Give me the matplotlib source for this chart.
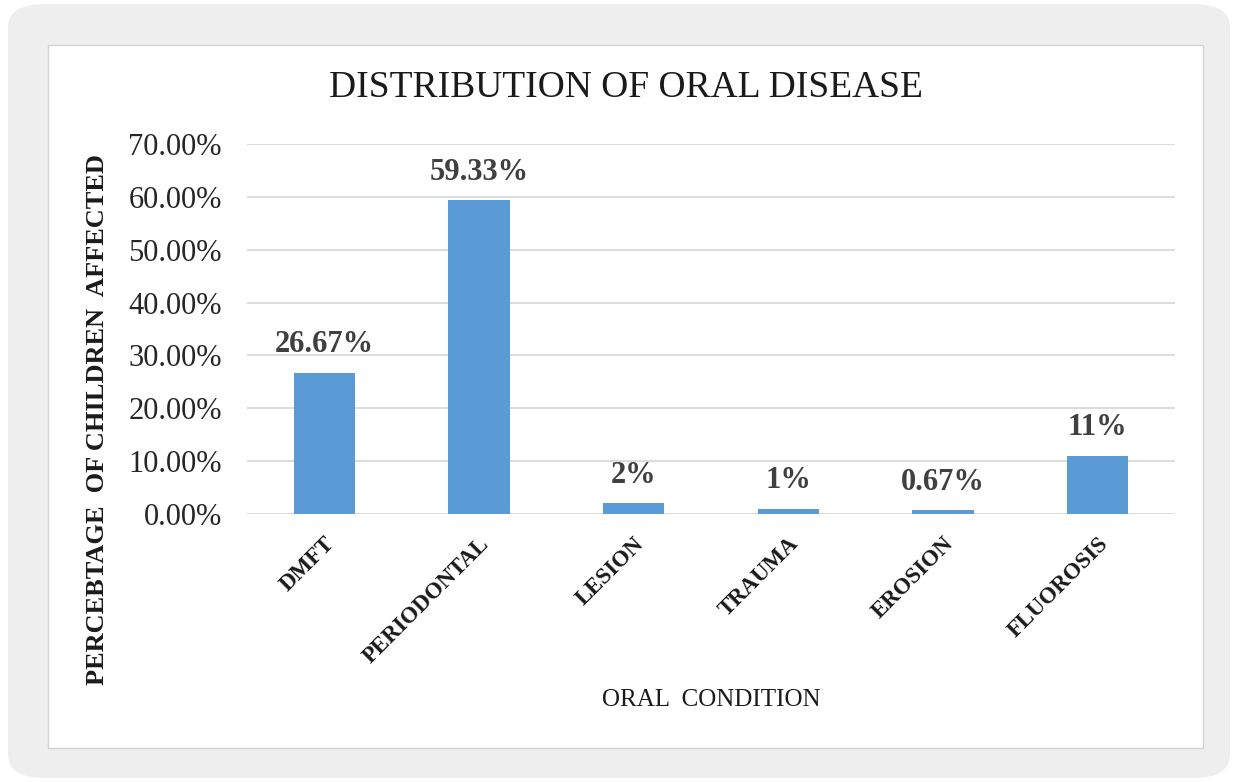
import numpy as np
import matplotlib.pyplot as plt
from matplotlib.patches import FancyBboxPatch, Rectangle
from matplotlib.ticker import FuncFormatter

plt.rcParams['font.family'] = ['Liberation Serif', 'DejaVu Serif']

# datos
categories = ['DMFT', 'PERIODONTAL', 'LESION', 'TRAUMA', 'EROSION', 'FLUOROSIS']
values = [26.67, 59.33, 2, 1, 0.67, 11]
value_labels = ['26.67%', '59.33%', '2%', '1%', '0.67%', '11%']

W, H = 1235, 782
fig = plt.figure(figsize=(W / 100, H / 100), dpi=100)

# marco gris redondeado y caja blanca interior
fig.patches.append(FancyBboxPatch((8 / W, 4 / H), 1222 / W, 774 / H,
                                  boxstyle='round,pad=0,rounding_size=0.03',
                                  transform=fig.transFigure, facecolor='#eeeeee',
                                  edgecolor='none', zorder=0))
fig.patches.append(Rectangle((48 / W, 1 - 748 / H), 1155 / W, 703 / H,
                             transform=fig.transFigure, facecolor='white',
                             edgecolor='#d4d4d4', linewidth=1, zorder=1))

ax = fig.add_axes([247 / W, 1 - 514 / H, 928 / W, 370 / H])
ax.set_zorder(3)
ax.set_facecolor('none')
x = np.arange(len(categories))
ax.bar(x, values, width=0.395, color='#5b9bd5', zorder=3)

for xi, v, lab in zip(x, values, value_labels):
    ax.annotate(lab, (xi, v), xytext=(0, 10), textcoords='offset points',
                ha='center', va='bottom', fontsize=22, fontweight='bold',
                color='#404040')

ax.set_xlim(-0.5, len(categories) - 0.5)
ax.set_ylim(0, 70)
ax.set_yticks(np.arange(0, 71, 10))
ax.yaxis.set_major_formatter(FuncFormatter(lambda v, p: f'{v:.2f}%'))
ax.grid(axis='y', color='#d9d9d9', linewidth=1.3, zorder=0)
for s in ax.spines.values():
    s.set_visible(False)
ax.tick_params(axis='both', length=0)
ax.tick_params(axis='y', labelsize=22, labelcolor='#262626', pad=18)

ax.set_xticks(x)
ax.set_xticklabels(categories, rotation=45, ha='right', rotation_mode='anchor',
                   fontsize=16.5, fontweight='bold', color='#1a1a1a')
ax.tick_params(axis='x', pad=14)

fig.text(626 / W, 1 - 88 / H, 'DISTRIBUTION OF ORAL DISEASE', ha='center',
         va='center', fontsize=27, color='#1a1a1a')
fig.text(711 / W, 1 - 700 / H, 'ORAL  CONDITION', ha='center', va='center',
         fontsize=18, color='#1a1a1a')
fig.text(98 / W, 1 - 420 / H, 'PERCEBTAGE  OF CHILDREN  AFFECTED', ha='center',
         va='center', rotation=90, fontsize=19, fontweight='bold', color='#1a1a1a')

fig.savefig('out.png', dpi=100)
